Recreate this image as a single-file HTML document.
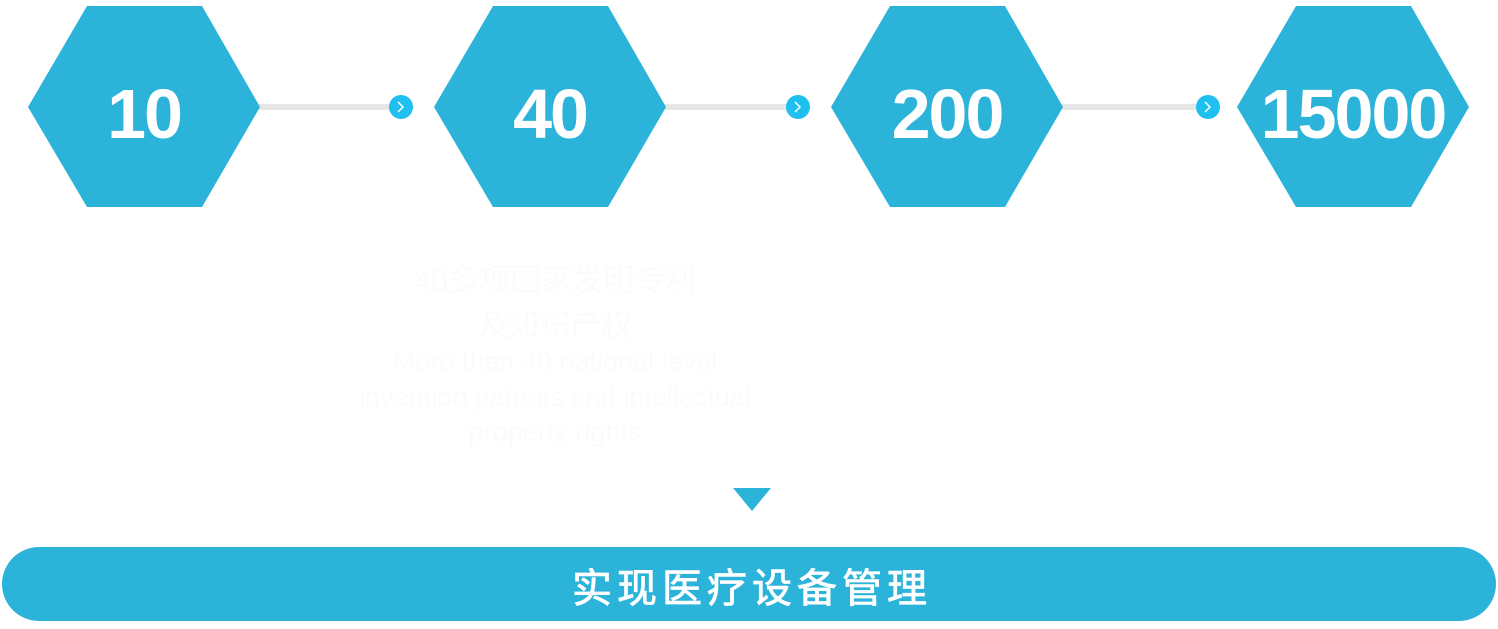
<!DOCTYPE html>
<html><head><meta charset="utf-8"><style>
body{margin:0;width:1498px;height:629px;background:#fff;overflow:hidden;position:relative;font-family:"Liberation Sans","Noto Sans CJK SC",sans-serif}
.t{position:absolute;left:305px;width:500px;text-align:center;color:#fbfbfb;white-space:nowrap}
</style></head><body>
<svg width="1498" height="629" style="position:absolute;left:0;top:0">
<g fill="#e6e6e6">
<rect x="255" y="104" width="140" height="6"/>
<rect x="661" y="104" width="132" height="6"/>
<rect x="1058" y="104" width="145" height="6"/>
</g>
<g fill="#2bb3d9">
<polygon points="28,107 87,6 202,6 260,107 202,207 87,207"/>
<polygon points="434,107 493,6 608,6 666,107 608,207 493,207"/>
<polygon points="831,107 890,6 1005,6 1063,107 1005,207 890,207"/>
<polygon points="1237,107 1296,6 1411,6 1469,107 1411,207 1296,207"/>
<polygon points="733,488 771,488 752,511"/>
<rect x="2" y="547" width="1494" height="74" rx="37"/>
</g>
<g fill="#1fbff0">
<circle cx="401" cy="107" r="12"/><circle cx="798" cy="107" r="12"/><circle cx="1208" cy="107" r="12"/>
</g>
<g stroke="#fff" stroke-width="1.5" fill="none">
<polyline points="398,102 403,107 398,112"/><polyline points="795,102 800,107 795,112"/><polyline points="1205,102 1210,107 1205,112"/>
</g>
<g fill="#fff" font-family="Liberation Sans" font-weight="bold" font-size="70" text-anchor="middle" letter-spacing="-2">
<text x="144" y="138">10</text>
<text x="550" y="138">40</text>
<text x="947" y="138">200</text>
<text x="1353" y="138">15000</text>
</g>
<text x="752" y="602" fill="#fff" stroke="#fff" stroke-width="0.8" font-size="40" text-anchor="middle" font-family="Liberation Sans,Noto Sans CJK SC,sans-serif" letter-spacing="5">实现医疗设备管理</text>
</svg>
<div class="t" style="top:255px;font-size:31px">40多项国家发明专利</div>
<div class="t" style="top:300px;font-size:31px">及知识产权</div>
<div class="t" style="top:346px;font-size:27px">More than 40 national level</div>
<div class="t" style="top:382px;font-size:27px">invention patents and intellectual</div>
<div class="t" style="top:417px;font-size:27px">property rights</div>
</body></html>
